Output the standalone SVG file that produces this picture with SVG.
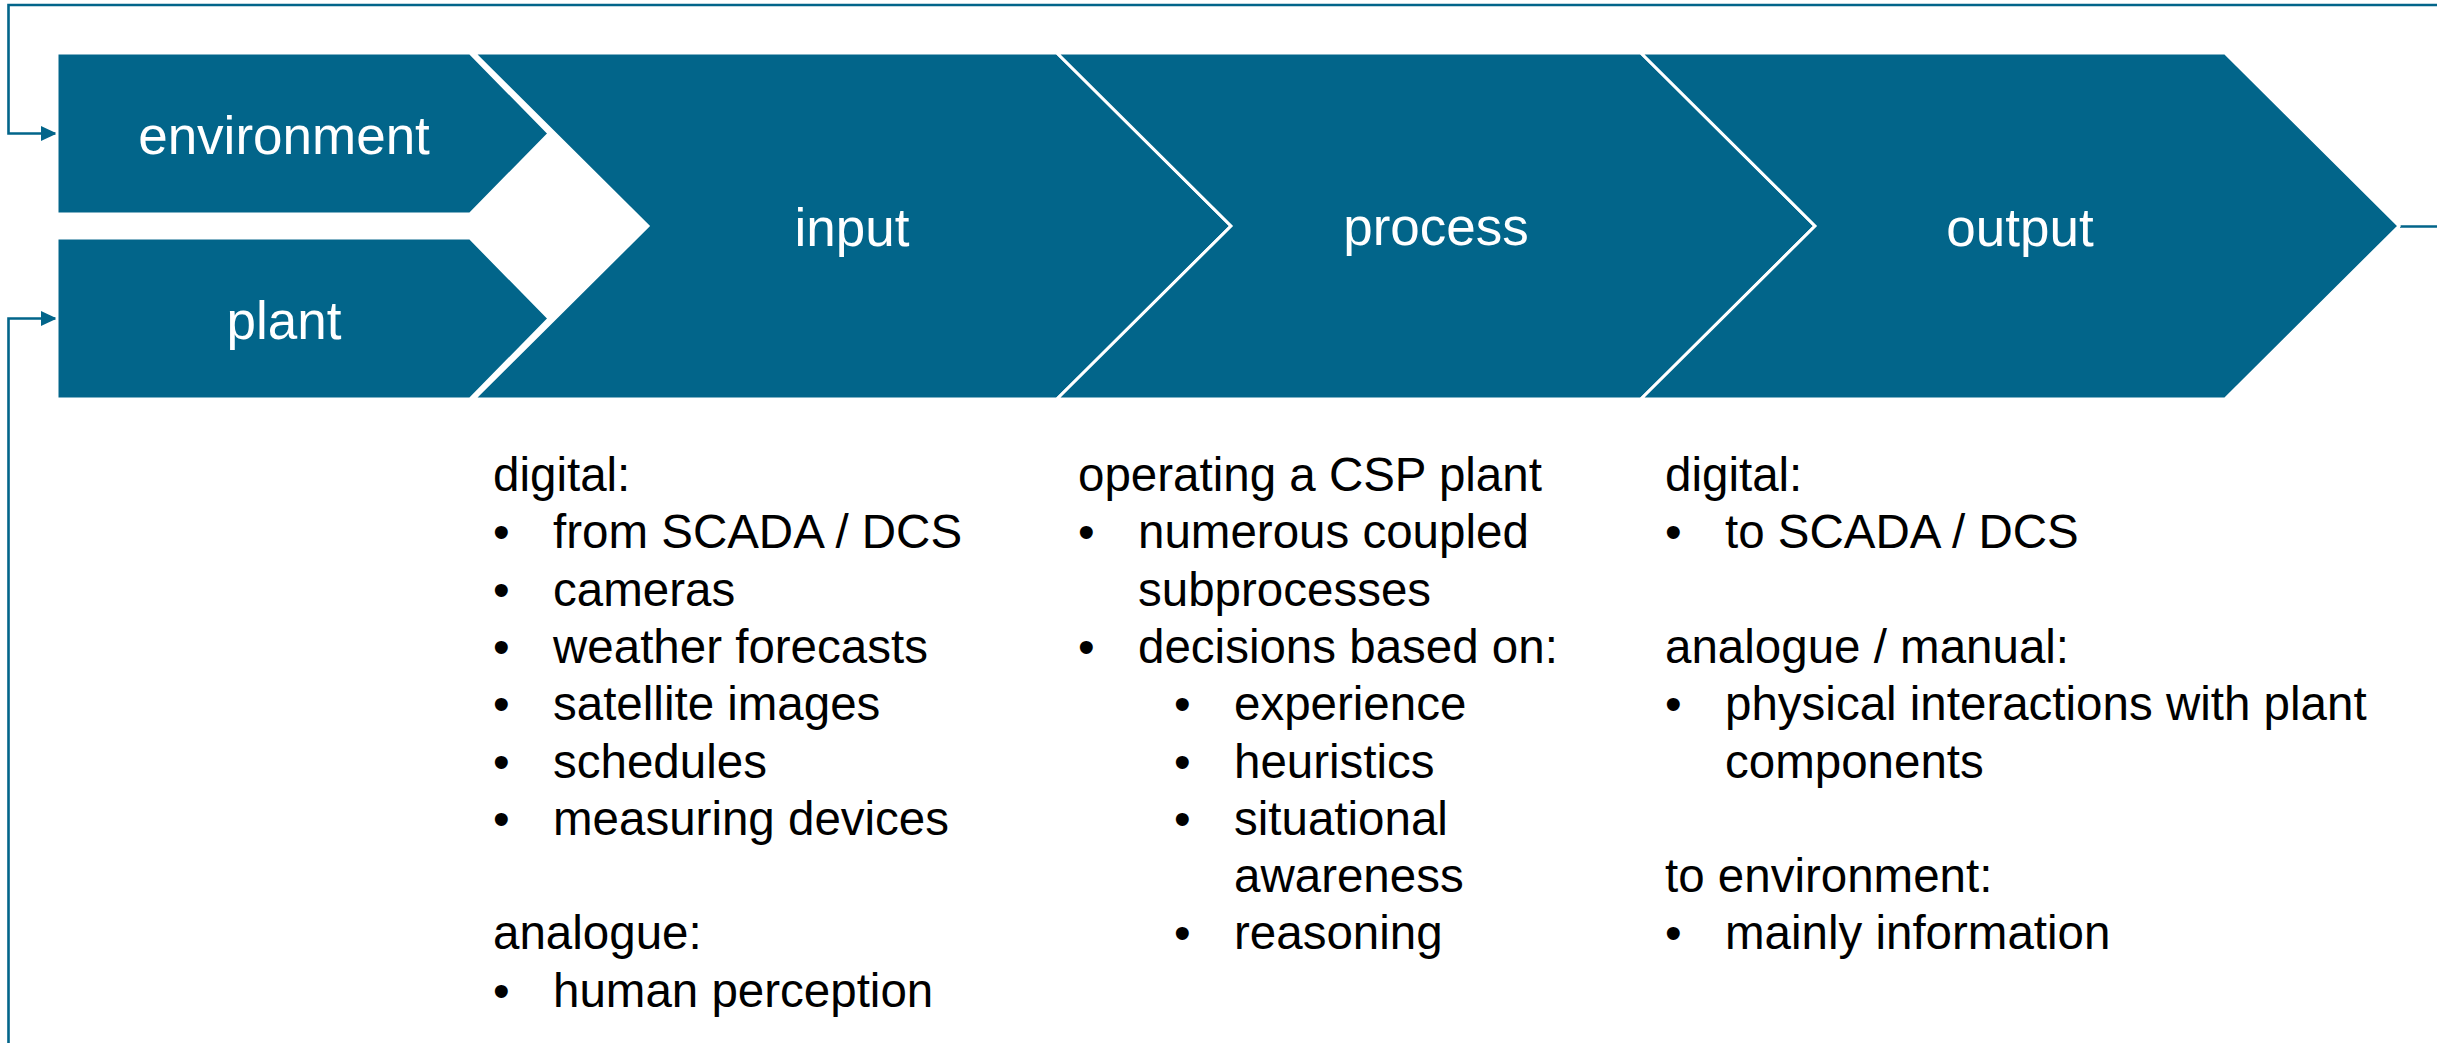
<svg xmlns="http://www.w3.org/2000/svg" width="2437" height="1043" viewBox="0 0 2437 1043">
  <style>
    .shape { fill: #02658A; stroke: #ffffff; stroke-width: 3; stroke-linejoin: miter; }
    .label { font-family: "Liberation Sans", Arial, sans-serif; font-size: 53px; fill: #ffffff; text-anchor: middle; }
    .body { font-family: "Liberation Sans", Arial, sans-serif; font-size: 47.5px; fill: #000000; }
    .conn { fill: none; stroke: #02658A; stroke-width: 2.6; }
  </style>
  <defs>
    <marker id="arrow" viewBox="0 0 16 15" refX="16" refY="7.5" markerWidth="16" markerHeight="15" markerUnits="userSpaceOnUse" orient="auto">
      <path d="M0,0 L16,7.5 L0,15 z" fill="#02658A"/>
    </marker>
  </defs>
  <rect width="2437" height="1043" fill="#ffffff"/>

  <g id="connectors">
    <path class="conn" d="M2437,5 H8.5 V133.5 H57" marker-end="url(#arrow)"/>
    <path class="conn" d="M8.5,1043 V318.5 H57" marker-end="url(#arrow)"/>
    <path class="conn" d="M2400,226.5 H2437"/>
  </g>

  <g id="environment">
    <polygon class="shape" points="57,53 470,53 549,133.5 470,214 57,214"/>
    <text class="label" x="284" y="154">environment</text>
  </g>
  <g id="plant">
    <polygon class="shape" points="57,238 470,238 549,318.5 470,399 57,399"/>
    <text class="label" x="284" y="339">plant</text>
  </g>
  <g id="input">
    <polygon class="shape" points="474,53 1057,53 1231,226 1057,399 474,399 648,226"/>
    <text class="label" x="852" y="246">input</text>
  </g>
  <g id="process">
    <polygon class="shape" points="1057,53 1641,53 1815,226 1641,399 1057,399 1231,226"/>
    <text class="label" x="1436" y="245">process</text>
  </g>
  <g id="output">
    <polygon class="shape" points="1641,53 2225,53 2399,226 2225,399 1641,399 1815,226"/>
    <text class="label" x="2020" y="246">output</text>
  </g>

  <g id="input-details" class="body">
    <text x="493" y="491">digital:</text>
    <text x="493" y="548.3">•</text><text x="553" y="548.3">from SCADA / DCS</text>
    <text x="493" y="605.6">•</text><text x="553" y="605.6">cameras</text>
    <text x="493" y="662.9">•</text><text x="553" y="662.9">weather forecasts</text>
    <text x="493" y="720.2">•</text><text x="553" y="720.2">satellite images</text>
    <text x="493" y="777.5">•</text><text x="553" y="777.5">schedules</text>
    <text x="493" y="834.8">•</text><text x="553" y="834.8">measuring devices</text>
    <text x="493" y="949.4">analogue:</text>
    <text x="493" y="1006.7">•</text><text x="553" y="1006.7">human perception</text>
  </g>

  <g id="process-details" class="body">
    <text x="1078" y="491">operating a CSP plant</text>
    <text x="1078" y="548.3">•</text><text x="1138" y="548.3">numerous coupled</text>
    <text x="1138" y="605.6">subprocesses</text>
    <text x="1078" y="662.9">•</text><text x="1138" y="662.9">decisions based on:</text>
    <text x="1174" y="720.2">•</text><text x="1234" y="720.2">experience</text>
    <text x="1174" y="777.5">•</text><text x="1234" y="777.5">heuristics</text>
    <text x="1174" y="834.8">•</text><text x="1234" y="834.8">situational</text>
    <text x="1234" y="892.1">awareness</text>
    <text x="1174" y="949.4">•</text><text x="1234" y="949.4">reasoning</text>
  </g>

  <g id="output-details" class="body">
    <text x="1665" y="491">digital:</text>
    <text x="1665" y="548.3">•</text><text x="1725" y="548.3">to SCADA / DCS</text>
    <text x="1665" y="662.9">analogue / manual:</text>
    <text x="1665" y="720.2">•</text><text x="1725" y="720.2">physical interactions with plant</text>
    <text x="1725" y="777.5">components</text>
    <text x="1665" y="892.1">to environment:</text>
    <text x="1665" y="949.4">•</text><text x="1725" y="949.4">mainly information</text>
  </g>
</svg>
